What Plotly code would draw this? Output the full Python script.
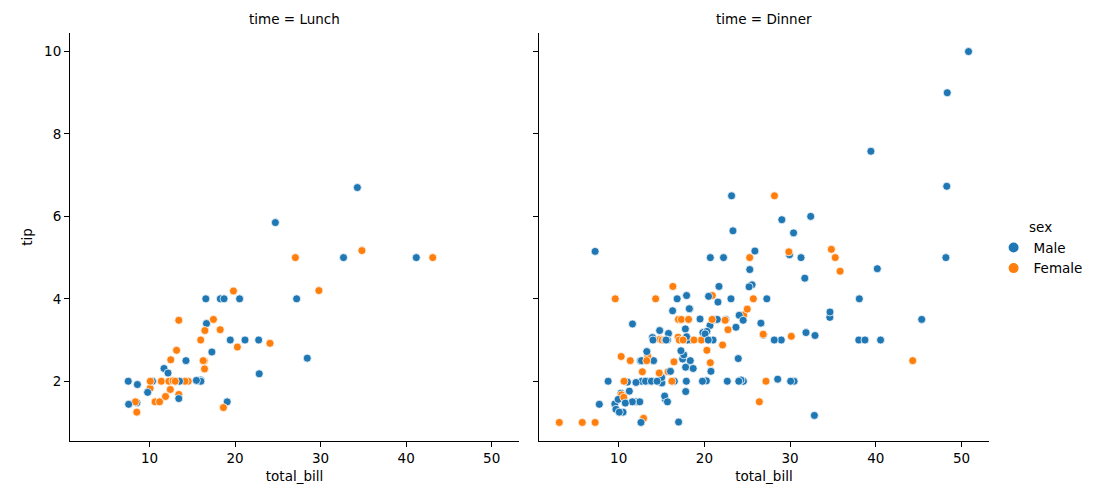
import plotly.graph_objects as pgo

# tips data, in row order (drawing order matters for overlaps)
total_bill = [16.99, 10.34, 21.01, 23.68, 24.59, 25.29, 8.77, 26.88, 15.04, 14.78,
              10.27, 35.26, 15.42, 18.43, 14.83, 21.58, 10.33, 16.29, 16.97, 20.65,
              17.92, 20.29, 15.77, 39.42, 19.82, 17.81, 13.37, 12.69, 21.7, 19.65,
              9.55, 18.35, 15.06, 20.69, 17.78, 24.06, 16.31, 16.93, 18.69, 31.27,
              16.04, 17.46, 13.94, 9.68, 30.4, 18.29, 22.23, 32.4, 28.55, 18.04,
              12.54, 10.29, 34.81, 9.94, 25.56, 19.49, 38.01, 26.41, 11.24, 48.27,
              20.29, 13.81, 11.02, 18.29, 17.59, 20.08, 16.45, 3.07, 20.23, 15.01,
              12.02, 17.07, 26.86, 25.28, 14.73, 10.51, 17.92, 27.2, 22.76, 17.29,
              19.44, 16.66, 10.07, 32.68, 15.98, 34.83, 13.03, 18.28, 24.71, 21.16,
              28.97, 22.49, 5.75, 16.32, 22.75, 40.17, 27.28, 12.03, 21.01, 12.46,
              11.35, 15.38, 44.3, 22.42, 20.92, 15.36, 20.49, 25.21, 18.24, 14.31,
              14.0, 7.25, 38.07, 23.95, 25.71, 17.31, 29.93, 10.65, 12.43, 24.08,
              11.69, 13.42, 14.26, 15.95, 12.48, 29.8, 8.52, 14.52, 11.38, 22.82,
              19.08, 20.27, 11.17, 12.26, 18.26, 8.51, 10.33, 14.15, 16.0, 13.16,
              17.47, 34.3, 41.19, 27.05, 16.43, 8.35, 18.64, 11.87, 9.78, 7.51,
              14.07, 13.13, 17.26, 24.55, 19.77, 29.85, 48.17, 25.0, 13.39, 16.49,
              21.5, 12.66, 16.21, 13.81, 17.51, 24.52, 20.76, 31.71, 10.59, 10.63,
              50.81, 15.81, 7.25, 31.85, 16.82, 32.9, 17.89, 14.48, 9.6, 34.63,
              34.65, 23.33, 45.35, 23.17, 40.55, 20.69, 20.9, 30.46, 18.15, 23.1,
              15.69, 19.81, 28.44, 15.48, 16.58, 7.56, 10.34, 43.11, 13.0, 13.51,
              18.71, 12.74, 13.0, 16.4, 20.53, 16.47, 26.59, 38.73, 24.27, 12.76,
              30.06, 25.89, 48.33, 13.27, 28.17, 12.9, 28.15, 11.59, 7.74, 30.14,
              12.16, 13.42, 8.58, 15.98, 13.42, 16.27, 10.09, 20.45, 13.28, 22.12,
              24.01, 15.69, 11.61, 10.77, 15.53, 10.07, 12.6, 32.83, 35.83, 29.03,
              27.18, 22.67, 17.82, 18.78]

tip = [1.01, 1.66, 3.5, 3.31, 3.61, 4.71, 2.0, 3.12, 1.96, 3.23,
       1.71, 5.0, 1.57, 3.0, 3.02, 3.92, 1.67, 3.71, 3.5, 3.35,
       4.08, 2.75, 2.23, 7.58, 3.18, 2.34, 2.0, 2.0, 4.3, 3.0,
       1.45, 2.5, 3.0, 2.45, 3.27, 3.6, 2.0, 3.07, 2.31, 5.0,
       2.24, 2.54, 3.06, 1.32, 5.6, 3.0, 5.0, 6.0, 2.05, 3.0,
       2.5, 2.6, 5.2, 1.56, 4.34, 3.51, 3.0, 1.5, 1.76, 6.73,
       3.21, 2.0, 1.98, 3.76, 2.64, 3.15, 2.47, 1.0, 2.01, 2.09,
       1.97, 3.0, 3.14, 5.0, 2.2, 1.25, 3.08, 4.0, 3.0, 2.71,
       3.0, 3.4, 1.83, 5.0, 2.03, 5.17, 2.0, 4.0, 5.85, 3.0,
       3.0, 3.5, 1.0, 4.3, 3.25, 4.73, 4.0, 1.5, 3.0, 1.5,
       2.5, 3.0, 2.5, 3.48, 4.08, 1.64, 4.06, 4.29, 3.76, 4.0,
       3.0, 1.0, 4.0, 2.55, 4.0, 3.5, 5.07, 1.5, 1.8, 2.92,
       2.31, 1.68, 2.5, 2.0, 2.52, 4.2, 1.48, 2.0, 2.0, 2.18,
       1.5, 2.83, 1.5, 2.0, 3.25, 1.25, 2.0, 2.0, 2.0, 2.75,
       3.5, 6.7, 5.0, 5.0, 2.3, 1.5, 1.36, 1.63, 1.73, 2.0,
       2.5, 2.0, 2.74, 2.0, 2.0, 5.14, 5.0, 3.75, 2.61, 2.0,
       3.5, 2.5, 2.0, 2.0, 3.0, 3.48, 2.24, 4.5, 1.61, 2.0,
       10.0, 3.16, 5.15, 3.18, 4.0, 3.11, 2.0, 2.0, 4.0, 3.55,
       3.68, 5.65, 3.5, 6.5, 3.0, 5.0, 3.5, 2.0, 3.5, 4.0,
       1.5, 4.19, 2.56, 2.02, 4.0, 1.44, 2.0, 5.0, 2.0, 2.0,
       4.0, 2.01, 2.0, 2.5, 4.0, 3.23, 3.41, 3.0, 2.03, 2.23,
       2.0, 5.16, 9.0, 2.5, 6.5, 1.1, 3.0, 1.5, 1.44, 3.09,
       2.2, 3.48, 1.92, 3.0, 1.58, 2.5, 2.0, 3.0, 2.72, 2.88,
       2.0, 3.0, 3.39, 1.47, 3.0, 1.25, 1.0, 1.17, 4.67, 5.92,
       2.0, 2.0, 1.75, 3.0]

# M = Male, F = Female
sex = list("MMMMFMMMMM" "MFMMFMFMFM" "MFFMMMMMMF" "MMFFMMMFMM"
           "MMMMMMMMMM" "MFFMMMMFMM" "MMMMMMFFMM" "MFFFFMMMMM"
           "MMFMMFMMMM" "MMFFFMMMMM" "FFFFFMMMMF" "MFMMFFMFFF"
           "MFMMFFMFFM" "MFFFFFFFMF" "FMMFFFFFMM" "MMMMMFMFFM"
           "MMFMFMMMFF" "MMMMMMMMFM" "MMMMMMFMFM" "MFMMMMMFFM"
           "MFFFMFMMMF" "MMMFFFMMMF" "MFMFMFFMMF" "MMMMMMMMFM"
           "FMMF")

# L = Lunch, D = Dinner
time = list("DDDDDDDDDD" "DDDDDDDDDD" "DDDDDDDDDD" "DDDDDDDDDD"
            "DDDDDDDDDD" "DDDDDDDDDD" "DDDDDDDDDD" "DDDDDDDLLL"
            "LLLLLLLLLL" "DDDDDDDDDD" "DDDDDDDDDD" "DDDDDDDLLL"
            "LLLLLLLLLL" "LLLLLLLLLL" "LLLLLLLLLL" "DDDDDDDDDD"
            "DDDDDDDDDD" "DDDDDDDDDD" "DDDDDDDDDD" "DLLLLLLLLL"
            "LLLLLLDDDD" "DDDDDDDDDD" "LLLLLLLDDD" "DDDDDDDDDD"
            "DDDD")

colors = {"M": "#1f77b4", "F": "#ff7f0e"}
font = dict(family="DejaVu Sans", size=13.5, color="black")

fig = pgo.Figure()

for code, xa, ya in [("L", "x", "y"), ("D", "x2", "y2")]:
    idx = [i for i in range(len(time)) if time[i] == code]
    fig.add_trace(pgo.Scatter(
        x=[total_bill[i] for i in idx],
        y=[tip[i] for i in idx],
        mode="markers",
        marker=dict(size=8, color=[colors[sex[i]] for i in idx],
                    line=dict(color="white", width=0.75)),
        xaxis=xa, yaxis=ya, showlegend=False, hoverinfo="x+y",
    ))

# legend entries only
for code, name in [("M", "Male"), ("F", "Female")]:
    fig.add_trace(pgo.Scatter(
        x=[None], y=[None], mode="markers", name=name,
        marker=dict(size=8, color=colors[code], line=dict(color="white", width=0.75)),
    ))

axis_common = dict(showgrid=False, zeroline=False, showline=True, linecolor="black",
                   linewidth=1.1, ticks="outside", ticklen=5, tickwidth=1.1,
                   tickcolor="black", tickfont=font)

x_range = [0.7, 53.2]
y_range = [0.55, 10.45]

# page body has an 8px margin, so the figure is drawn a bit smaller
fig.update_layout(
    width=1094, height=492,
    margin=dict(l=62, r=113, t=25, b=59),
    plot_bgcolor="white", paper_bgcolor="white",
    font=font,
    xaxis=dict(domain=[0, 0.4886], range=x_range, tickvals=[10, 20, 30, 40, 50],
               title=dict(text="total_bill", font=font, standoff=6), **axis_common),
    xaxis2=dict(domain=[0.5103, 1], range=x_range, tickvals=[10, 20, 30, 40, 50],
                title=dict(text="total_bill", font=font, standoff=6), **axis_common),
    yaxis=dict(domain=[0, 1], range=y_range, tickvals=[2, 4, 6, 8, 10],
               title=dict(text="tip", font=font, standoff=8), **axis_common),
    yaxis2=dict(domain=[0, 1], range=y_range, tickvals=[2, 4, 6, 8, 10],
                showticklabels=False, anchor="x2", **axis_common),
    legend=dict(
        x=1.005, y=0.47, xanchor="left", yanchor="middle",
        title=dict(text="sex", font=font, side="top center"),
        font=font, bgcolor="rgba(0,0,0,0)", itemsizing="constant",
        tracegroupgap=2,
    ),
    annotations=[
        dict(text="time = Lunch", x=0.2443, y=1, xref="paper", yref="paper",
             xanchor="center", yanchor="bottom", yshift=4, showarrow=False, font=font),
        dict(text="time = Dinner", x=0.7552, y=1, xref="paper", yref="paper",
             xanchor="center", yanchor="bottom", yshift=4, showarrow=False, font=font),
    ],
)

fig.write_html("out.html")
